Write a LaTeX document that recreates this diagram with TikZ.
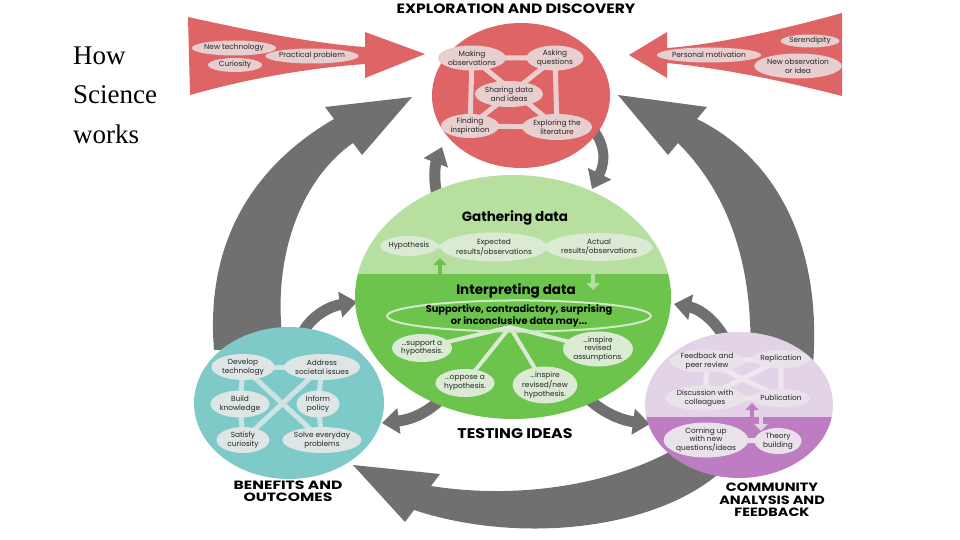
\documentclass[tikz,border=0pt]{standalone}
\usepackage{fontspec}
\setmainfont{Liberation Serif}
\newfontfamily\uifont{Poppins}
\usetikzlibrary{shapes.geometric,arrows.meta}
\pgfdeclarelayer{bg}\pgfdeclarelayer{edges}
\pgfsetlayers{bg,edges,main}
\definecolor{redc}{RGB}{222,100,102}
\definecolor{rednode}{RGB}{231,207,207}
\definecolor{redline}{RGB}{236,206,206}
\definecolor{grayarr}{RGB}{112,112,112}
\definecolor{lgreen}{RGB}{183,224,160}
\definecolor{dgreen}{RGB}{108,196,76}
\definecolor{gnode}{RGB}{218,234,211}
\definecolor{gline}{RGB}{208,234,198}
\definecolor{tealc}{RGB}{126,202,201}
\definecolor{tnode}{RGB}{222,229,229}
\definecolor{tline}{RGB}{204,229,228}
\definecolor{lav}{RGB}{226,211,230}
\definecolor{purp}{RGB}{190,125,194}
\definecolor{pnode}{RGB}{233,226,234}
\definecolor{pline}{RGB}{238,231,239}
\newcommand{\wide}[2]{\scalebox{#1}[1]{#2}}
\tikzset{
  bub/.style={ellipse, inner sep=0pt, align=center, text=black!85,
    font=\uifont\fontsize{7.4}{8.6}\selectfont},
  rbub/.style={bub, fill=rednode},
  gbub/.style={bub, fill=gnode},
  tbub/.style={bub, fill=tnode},
  pbub/.style={bub, fill=pnode},
  headtxt/.style={font=\uifont\bfseries\fontsize{13.5}{13}\selectfont, align=center, inner sep=0pt},
  labtxt/.style={font=\uifont\bfseries\fontsize{12}{12.3}\selectfont, align=center, inner sep=0pt},
  subhead/.style={font=\uifont\bfseries\fontsize{13.5}{13}\selectfont, inner sep=0pt},
  conn/.style={line width=5pt},
  smallarr/.style={draw=grayarr, line width=11pt, -{Triangle[length=17pt,width=25pt]}},
  hsw/.style={anchor=base west, inner sep=0pt, font=\fontsize{27}{40}\selectfont}
}
\begin{document}
\begin{tikzpicture}[x=1pt,y=-1pt]
\useasboundingbox (0,0) rectangle (960,540);

% ---------- title at left
\node[hsw] (how) at (73,65) {How};
\node[hsw] (sci) at (73,104) {Science};
\node[hsw] (wrk) at (73,144) {works};

\begin{pgfonlayer}{bg}
% ---------- big gray arcs
\fill[grayarr] (214,350) .. controls (205,240) and (255,165) .. (334,119)
  -- (325,107) -- (412,97) -- (362,155) -- (353,143)
  .. controls (300,180) and (270,260) .. (284,350) -- cycle;
\fill[grayarr] (697,119) .. controls (780,160) and (822,250) .. (813,365)
  -- (750,365) .. controls (755,260) and (725,190) .. (678,143)
  -- (668,155) -- (618,95) -- (707,107) -- cycle;
\fill[grayarr] (431,486) .. controls (520,500) and (620,485) .. (690,440)
  -- (725,468) .. controls (660,530) and (520,545) .. (414,510)
  -- (405,522) -- (353,465) -- (440,474) -- cycle;
% ---------- small gray arrows
\coordinate (a1s) at (298,345); \coordinate (a1e) at (357,302);
\draw[smallarr] (a1s) .. controls (303,322) and (325,307) .. (a1e);
\coordinate (a2s) at (438,200); \coordinate (a2e) at (442,147);
\draw[smallarr] (a2s) .. controls (433,180) and (435,165) .. (a2e);
\coordinate (a3s) at (595,132); \coordinate (a3e) at (592,189);
\draw[smallarr, line width=10pt] (a3s) .. controls (607,150) and (604,165) .. (a3e);
\coordinate (a4s) at (728,345); \coordinate (a4e) at (674,304);
\draw[smallarr] (a4s) .. controls (718,322) and (700,309) .. (a4e);
\coordinate (a5s) at (448,392); \coordinate (a5e) at (382,423);
\draw[smallarr] (a5s) .. controls (432,410) and (415,419) .. (a5e);
\coordinate (a6s) at (582,392); \coordinate (a6e) at (650,424);
\draw[smallarr] (a6s) .. controls (598,411) and (620,420) .. (a6e);

% ---------- red arrows
\fill[redc] (188,17) .. controls (260,33) and (320,44) .. (365,47) -- (365,32)
  -- (425,54) -- (365,78) -- (365,64) .. controls (310,68) and (250,78) .. (190,95) -- cycle;
\fill[redc] (842,13) .. controls (770,33) and (710,45) .. (667,48) -- (667,32)
  -- (629,55) -- (667,78) -- (667,63) .. controls (720,68) and (780,80) .. (842,96) -- cycle;

% ---------- circles
\fill[redc] (521,95.5) ellipse [x radius=89, y radius=72.5];
\begin{scope}
  \clip (513,297) ellipse [x radius=158, y radius=122];
  \fill[lgreen] (350,170) rectangle (680,274);
  \fill[dgreen] (350,274) rectangle (680,425);
\end{scope}
\fill[tealc] (289,403) ellipse [x radius=95, y radius=76];
\begin{scope}
  \clip (739,405) ellipse [x radius=94, y radius=73];
  \fill[lav] (640,325) rectangle (840,417);
  \fill[purp] (640,417) rectangle (840,485);
\end{scope}
\end{pgfonlayer}

% ---------- headings
\node[headtxt] (t1) at (516,9) {\wide{1.15}{EXPLORATION AND DISCOVERY}};
\node[subhead] (t2) at (515,218) {Gathering data};
\node[subhead] (t3) at (516,291) {Interpreting data};
\node[headtxt, font=\uifont\bfseries\fontsize{14}{14}\selectfont] (t4) at (515,434) {\wide{1.13}{TESTING IDEAS}};
\node[labtxt] (t5) at (288,491.5) {\wide{1.3}{BENEFITS AND}\\\wide{1.3}{OUTCOMES}};
\node[labtxt] (t6) at (772,500) {\wide{1.2}{COMMUNITY}\\\wide{1.2}{ANALYSIS AND}\\\wide{1.2}{FEEDBACK}};

% ---------- red arrow bubbles
\node[rbub, minimum width=78, minimum height=15] (nt) at (234,48) {New technology};
\node[rbub, minimum width=54, minimum height=14] (cu) at (235,65) {Curiosity};
\node[rbub, minimum width=77, minimum height=15] (pp) at (312,56) {Practical problem};
\node[rbub, minimum width=93, minimum height=15] (pm) at (709,55) {Personal motivation};
\node[rbub, minimum width=57, minimum height=13] (se) at (810,41) {Serendipity};
\node[rbub, minimum width=83, minimum height=25] (no) at (798,66) {New observation\\or idea};

% ---------- exploration bubbles
\node[rbub, minimum width=62, minimum height=25] (mo) at (472,58) {Making\\observations};
\node[rbub, minimum width=57, minimum height=25] (aq) at (555,58) {Asking\\questions};
\node[rbub, minimum width=65, minimum height=26] (sd) at (509,94) {Sharing data\\and ideas};
\node[rbub, minimum width=58, minimum height=24] (fi) at (470,126) {Finding\\inspiration};
\node[rbub, minimum width=70, minimum height=26] (el) at (557,127) {Exploring the\\literature};
\begin{pgfonlayer}{edges}
\draw[conn, redline] (mo.center) -- (aq.center) -- (el.center) -- (fi.center) -- cycle;
\draw[conn, redline] (mo.center) -- (el.center);
\draw[conn, redline] (aq.center) -- (fi.center);
\end{pgfonlayer}

% ---------- gathering data
\node[gbub, minimum width=57, minimum height=20] (hy) at (409,246) {Hypothesis};
\node[gbub, minimum width=96, minimum height=29] (ex) at (494,247) {Expected\\results/observations};
\node[gbub, minimum width=90, minimum height=28] (ac) at (599,247) {Actual\\results/observations};
\begin{pgfonlayer}{edges}
\draw[conn, line width=4pt, gnode] (hy.center) -- (ex.center) -- (ac.center);
\end{pgfonlayer}
\coordinate (gu1) at (440,275); \coordinate (gu2) at (440,258);
\draw[dgreen, line width=4pt, -{Triangle[length=7pt,width=13pt]}] (gu1) -- (gu2);
\coordinate (gd1) at (593,273); \coordinate (gd2) at (593,290);
\draw[lgreen, line width=4pt, -{Triangle[length=7pt,width=13pt]}] (gd1) -- (gd2);

% ---------- interpreting data
\node[ellipse, draw=gline, line width=2pt, inner sep=0pt, minimum width=254, minimum height=26,
  align=center, font=\uifont\bfseries\fontsize{9.8}{10.5}\selectfont] (sup) at (519,316)
  {Supportive, contradictory, surprising\\or inconclusive data may...};
\node[gbub, minimum width=60, minimum height=28] (s1) at (422,348) {...support a\\hypothesis.};
\node[gbub, minimum width=57, minimum height=28] (s2) at (465,383) {...oppose a\\hypothesis.};
\node[gbub, minimum width=58, minimum height=36] (s3) at (545,385) {...inspire\\revised/new\\hypothesis.};
\node[gbub, minimum width=64, minimum height=34] (s4) at (598,349) {...inspire\\revised\\assumptions.};
\coordinate (fan) at (510,327);
\begin{pgfonlayer}{edges}
\foreach \n in {s1,s2,s3,s4} \draw[conn, line width=4pt, gnode] (fan) -- (\n.center);
\end{pgfonlayer}

% ---------- benefits
\node[tbub, minimum width=63, minimum height=26] (dt) at (243,367) {Develop\\technology};
\node[tbub, minimum width=67, minimum height=26] (as) at (322,367) {Address\\societal issues};
\node[tbub, minimum width=59, minimum height=27] (bk) at (240,404) {Build\\knowledge};
\node[tbub, minimum width=43, minimum height=27] (ip) at (318,404) {Inform\\policy};
\node[tbub, minimum width=53, minimum height=26] (sc) at (243,440) {Satisfy\\curiosity};
\node[tbub, minimum width=68, minimum height=26] (sp) at (322,440) {Solve everyday\\problems};
\begin{pgfonlayer}{edges}
\draw[conn, tline] (dt.center) -- (as.center);
\draw[conn, tline] (dt.center) -- (bk.center) -- (sc.center);
\draw[conn, tline] (as.center) -- (ip.center) -- (sp.center);
\draw[conn, tline] (dt.center) -- (sp.center);
\draw[conn, tline] (as.center) -- (sc.center);
\end{pgfonlayer}

% ---------- community
\node[pbub, minimum width=70, minimum height=23] (fb) at (707,361) {Feedback and\\peer review};
\node[pbub, minimum width=51, minimum height=18] (rp) at (781,359) {Replication};
\node[pbub, minimum width=75, minimum height=25] (dc) at (705,398) {Discussion with\\colleagues};
\node[pbub, minimum width=51, minimum height=18] (pu) at (781,398) {Publication};
\node[pbub, minimum width=74, minimum height=35] (cq) at (706,440) {Coming up\\with new\\questions/ideas};
\node[pbub, minimum width=47, minimum height=26] (tb) at (778,441) {Theory\\building};
\begin{pgfonlayer}{edges}
\draw[conn, pline] (fb.center) -- (rp.center) -- (pu.center) -- (dc.center) -- cycle;
\draw[conn, pline] (fb.center) -- (pu.center);
\draw[conn, pline] (rp.center) -- (dc.center);
\draw[conn, pnode] (cq.center) -- (tb.center);
\end{pgfonlayer}
\coordinate (pu1) at (752,419); \coordinate (pu2) at (752,403);
\draw[purp, line width=4pt, -{Triangle[length=7pt,width=13pt]}] (pu1) -- (pu2);
\coordinate (pd1) at (761,415); \coordinate (pd2) at (761,431);
\draw[lav, line width=4pt, -{Triangle[length=7pt,width=13pt]}] (pd1) -- (pd2);

\end{tikzpicture}
\end{document}
